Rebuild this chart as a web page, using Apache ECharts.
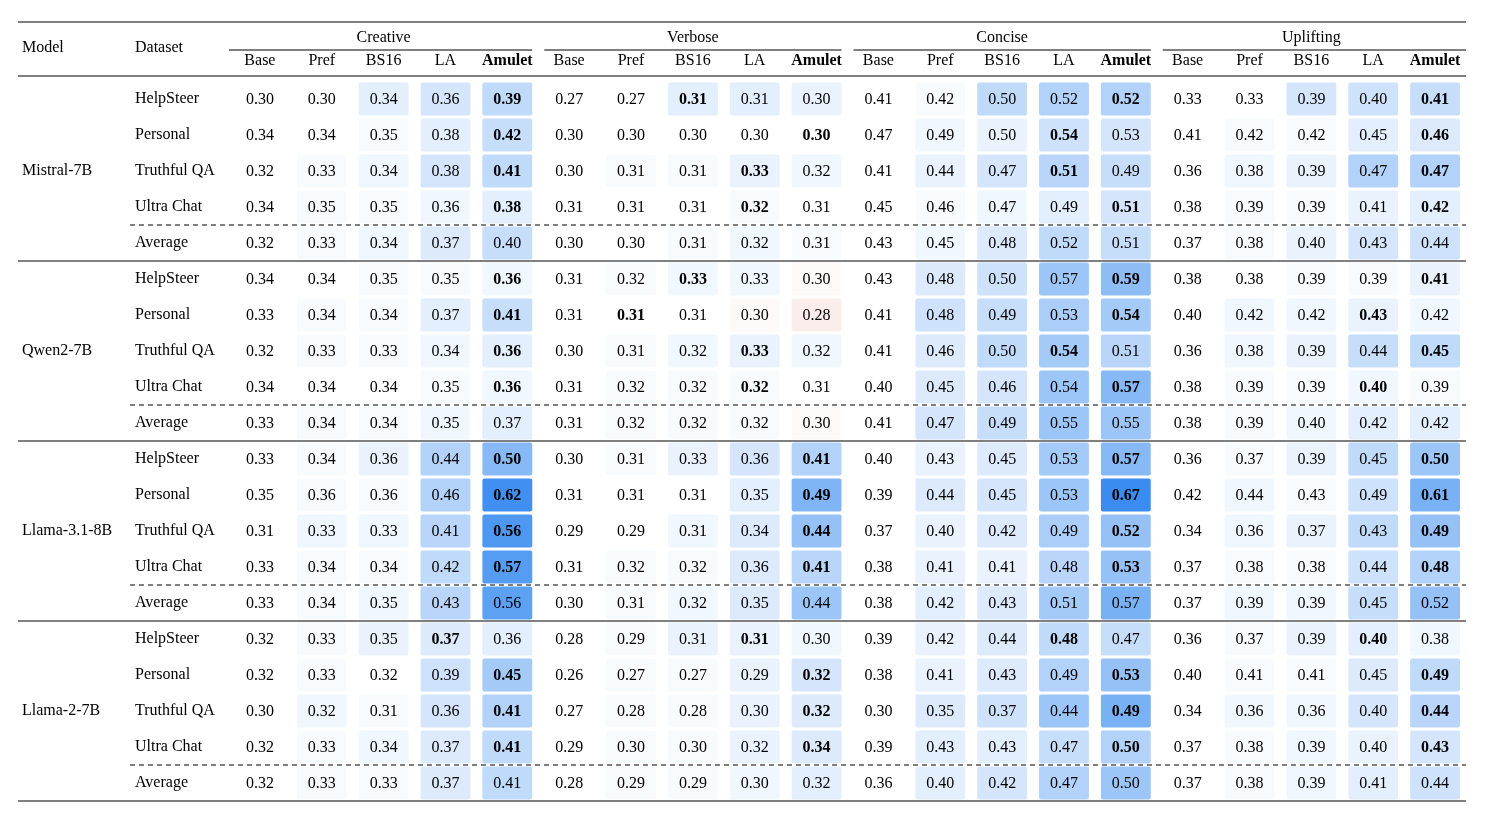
<!DOCTYPE html>
<html><head><meta charset="utf-8">
<script src="https://cdn.jsdelivr.net/npm/echarts@6/dist/echarts.min.js"></script>
<style>html,body{margin:0;padding:0;background:#fff}#c{width:1490px;height:830px}</style>
</head><body><div id="c"></div>
<script>
const models = ['Mistral-7B','Qwen2-7B','Llama-3.1-8B','Llama-2-7B'];
const datasets = ['HelpSteer','Personal','Truthful QA','Ultra Chat','Average'];
const groups = ['Creative','Verbose','Concise','Uplifting'];
const methods = ['Base','Pref','BS16','LA','Amulet'];

const mistral = [
 [0.30,0.30,0.34,0.36,0.39, 0.27,0.27,0.31,0.31,0.30, 0.41,0.42,0.50,0.52,0.52, 0.33,0.33,0.39,0.40,0.41],
 [0.34,0.34,0.35,0.38,0.42, 0.30,0.30,0.30,0.30,0.30, 0.47,0.49,0.50,0.54,0.53, 0.41,0.42,0.42,0.45,0.46],
 [0.32,0.33,0.34,0.38,0.41, 0.30,0.31,0.31,0.33,0.32, 0.41,0.44,0.47,0.51,0.49, 0.36,0.38,0.39,0.47,0.47],
 [0.34,0.35,0.35,0.36,0.38, 0.31,0.31,0.31,0.32,0.31, 0.45,0.46,0.47,0.49,0.51, 0.38,0.39,0.39,0.41,0.42],
 [0.32,0.33,0.34,0.37,0.40, 0.30,0.30,0.31,0.32,0.31, 0.43,0.45,0.48,0.52,0.51, 0.37,0.38,0.40,0.43,0.44]
];
const qwen = [
 [0.34,0.34,0.35,0.35,0.36, 0.31,0.32,0.33,0.33,0.30, 0.43,0.48,0.50,0.57,0.59, 0.38,0.38,0.39,0.39,0.41],
 [0.33,0.34,0.34,0.37,0.41, 0.31,0.31,0.31,0.30,0.28, 0.41,0.48,0.49,0.53,0.54, 0.40,0.42,0.42,0.43,0.42],
 [0.32,0.33,0.33,0.34,0.36, 0.30,0.31,0.32,0.33,0.32, 0.41,0.46,0.50,0.54,0.51, 0.36,0.38,0.39,0.44,0.45],
 [0.34,0.34,0.34,0.35,0.36, 0.31,0.32,0.32,0.32,0.31, 0.40,0.45,0.46,0.54,0.57, 0.38,0.39,0.39,0.40,0.39],
 [0.33,0.34,0.34,0.35,0.37, 0.31,0.32,0.32,0.32,0.30, 0.41,0.47,0.49,0.55,0.55, 0.38,0.39,0.40,0.42,0.42]
];
const llama3 = [
 [0.33,0.34,0.36,0.44,0.50, 0.30,0.31,0.33,0.36,0.41, 0.40,0.43,0.45,0.53,0.57, 0.36,0.37,0.39,0.45,0.50],
 [0.35,0.36,0.36,0.46,0.62, 0.31,0.31,0.31,0.35,0.49, 0.39,0.44,0.45,0.53,0.67, 0.42,0.44,0.43,0.49,0.61],
 [0.31,0.33,0.33,0.41,0.56, 0.29,0.29,0.31,0.34,0.44, 0.37,0.40,0.42,0.49,0.52, 0.34,0.36,0.37,0.43,0.49],
 [0.33,0.34,0.34,0.42,0.57, 0.31,0.32,0.32,0.36,0.41, 0.38,0.41,0.41,0.48,0.53, 0.37,0.38,0.38,0.44,0.48],
 [0.33,0.34,0.35,0.43,0.56, 0.30,0.31,0.32,0.35,0.44, 0.38,0.42,0.43,0.51,0.57, 0.37,0.39,0.39,0.45,0.52]
];
const llama2 = [
 [0.32,0.33,0.35,0.37,0.36, 0.28,0.29,0.31,0.31,0.30, 0.39,0.42,0.44,0.48,0.47, 0.36,0.37,0.39,0.40,0.38],
 [0.32,0.33,0.32,0.39,0.45, 0.26,0.27,0.27,0.29,0.32, 0.38,0.41,0.43,0.49,0.53, 0.40,0.41,0.41,0.45,0.49],
 [0.30,0.32,0.31,0.36,0.41, 0.27,0.28,0.28,0.30,0.32, 0.30,0.35,0.37,0.44,0.49, 0.34,0.36,0.36,0.40,0.44],
 [0.32,0.33,0.34,0.37,0.41, 0.29,0.30,0.30,0.32,0.34, 0.39,0.43,0.43,0.47,0.50, 0.37,0.38,0.39,0.40,0.43],
 [0.32,0.33,0.33,0.37,0.41, 0.28,0.29,0.29,0.30,0.32, 0.36,0.40,0.42,0.47,0.50, 0.37,0.38,0.39,0.41,0.44]
];
// bold column (within the group) per row: [Creative, Verbose, Concise, Uplifting]; -1 = none
const mistralBold = [[4,2,4,4],[4,4,3,4],[4,3,3,4],[4,3,4,4],[-1,-1,-1,-1]];
const qwenBold    = [[4,2,4,4],[4,1,4,3],[4,3,3,4],[4,3,4,3],[-1,-1,-1,-1]];
const llama3Bold  = [[4,4,4,4],[4,4,4,4],[4,4,4,4],[4,4,4,4],[-1,-1,-1,-1]];
const llama2Bold  = [[3,3,3,3],[4,4,4,4],[4,4,4,4],[4,4,4,4],[-1,-1,-1,-1]];

(function(){
const tables = [mistral,qwen,llama3,llama2];
const bolds = [mistralBold,qwenBold,llama3Bold,llama2Bold];

const xCats = [];
groups.forEach(()=>methods.forEach(m=>xCats.push(m)));
const yCats = [];
models.forEach(()=>datasets.forEach(d=>yCats.push(d)));

const data = [];
tables.forEach((t,mi)=>t.forEach((row,ri)=>{
  row.forEach((v,c)=>{
    const gi = Math.floor(c/5);
    const base = row[gi*5];
    const b = bolds[mi][ri][gi] === c%5 ? 1 : 0;
    data.push([c, mi*5+ri, v, +(v-base).toFixed(3), b]);
  });
}));

const FONT = '"Liberation Serif","Times New Roman",serif';
const chart = echarts.init(document.getElementById('c'));
chart.setOption({
  animation:false,
  grid:{left:229,right:24,top:81,bottom:29},
  xAxis:{type:'category',data:xCats,position:'top',axisLine:{show:false},axisTick:{show:false},splitLine:{show:false},
    axisLabel:{margin:12,fontFamily:FONT,fontSize:16,color:'#000',interval:0,
      formatter:v=>v==='Amulet'?'{b|Amulet}':v,rich:{b:{fontWeight:'bold',fontFamily:FONT,fontSize:16,color:'#000'}}}},
  yAxis:{type:'category',data:yCats,inverse:true,axisLine:{show:false},axisTick:{show:false},splitLine:{show:false},
    axisLabel:{align:'left',margin:94,fontFamily:FONT,fontSize:16,color:'#000',interval:0}},
  visualMap:{show:false,type:'continuous',dimension:3,min:-0.28,max:0.28,seriesIndex:0,
    inRange:{color:['#d9534f','#ffffff','#3a8cf0']}},
  series:[{type:'custom',data:data,renderItem:(params,api)=>{
    const v=api.value(2), b=api.value(4);
    const p=api.coord([api.value(0),api.value(1)]);
    const s=api.size([1,1]);
    return {type:'group',children:[
      {type:'rect',shape:{x:p[0]-s[0]/2+6,y:p[1]-s[1]/2+1.5,width:s[0]-12,height:s[1]-3,r:2},style:{fill:api.visual('color')}},
      {type:'text',style:{text:v.toFixed(2),x:p[0],y:p[1]+1,align:'center',verticalAlign:'middle',
        font:(b?'bold ':'')+'16px '+FONT,fill:'#000'}}
    ]};
  }}]
});

const px = (c,r)=>chart.convertToPixel({gridIndex:0},[c,r]);
const colW = px(1,0)[0]-px(0,0)[0];
const rowH = px(0,1)[1]-px(0,0)[1];
const topY = px(0,0)[1]-rowH/2;
const L=18, R=1466;
const g=[];
const line=(x1,y1,x2,y2,w,dash)=>g.push({type:'line',shape:{x1,y1,x2,y2},style:{stroke:'#000',lineWidth:w||1,lineDash:dash||null},z:10});
line(L,22,R,22,1.2);
line(L,76,R,76,1);
groups.forEach((name,gi)=>{
  const x0=px(gi*5,0)[0]-colW/2, x1=px(gi*5+4,0)[0]+colW/2;
  line(x0+(gi?6:0),50,x1-(gi<3?6:0),50,1);
  g.push({type:'text',style:{text:name,x:(x0+x1)/2,y:38,align:'center',verticalAlign:'middle',font:'16px '+FONT,fill:'#000'}});
});
g.push({type:'text',style:{text:'Model',x:22,y:48,verticalAlign:'middle',font:'16px '+FONT,fill:'#000'}});
g.push({type:'text',style:{text:'Dataset',x:135,y:48,verticalAlign:'middle',font:'16px '+FONT,fill:'#000'}});
models.forEach((m,mi)=>{
  const yc = px(0,mi*5+1.95)[1];
  g.push({type:'text',style:{text:m,x:22,y:yc,verticalAlign:'middle',font:'16px '+FONT,fill:'#000'}});
  const yd = topY+(mi*5+4)*rowH;
  line(130,yd,R,yd,1,[5,4]);
  if(mi<3){const ys=topY+(mi*5+5)*rowH; line(L,ys,R,ys,1);}
});
line(L,topY+20*rowH,R,topY+20*rowH,1.2);
chart.setOption({graphic:g});
})();
</script></body></html>
